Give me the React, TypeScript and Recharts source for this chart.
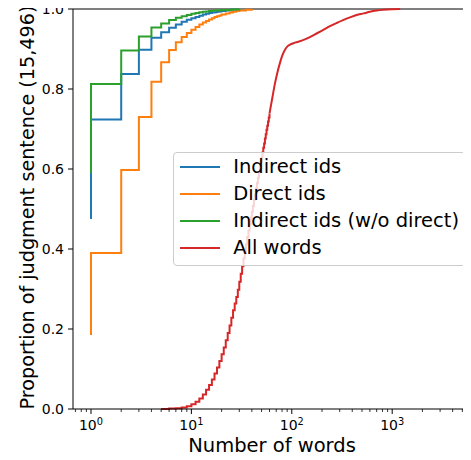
import { LineChart, Line, XAxis, YAxis, Legend, ReferenceLine, Label } from "recharts";

const FONT = "DejaVu Sans";
const BLUE = "#1f77b4";
const ORANGE = "#ff7f0e";
const GREEN = "#2ca02c";
const RED = "#d62728";

// Indirect ids
const INDIRECT_WORDS = [1, 1, 2, 3, 4, 5, 6, 7, 8, 9, 10, 11, 12, 13, 14, 15, 16, 17, 18, 19, 20, 22, 25, 30];
const INDIRECT_PROP = [
  0.475, 0.724, 0.8375, 0.898, 0.928, 0.942, 0.953, 0.961, 0.968, 0.973, 0.977, 0.98, 0.983, 0.986, 0.988, 0.99,
  0.991, 0.992, 0.993, 0.994, 0.995, 0.996, 0.998, 1,
];

// Direct ids
const DIRECT_WORDS = [1, 1, 2, 3, 4, 5, 6, 7, 8, 9, 10, 11, 12, 13, 14, 15, 16, 17, 18, 19, 20, 22, 24, 26, 28, 30, 35, 40];
const DIRECT_PROP = [
  0.185, 0.39, 0.5975, 0.73, 0.818, 0.867, 0.8975, 0.917, 0.93, 0.94, 0.948, 0.955, 0.961, 0.966, 0.97, 0.974,
  0.977, 0.98, 0.982, 0.984, 0.986, 0.989, 0.991, 0.993, 0.995, 0.996, 0.998, 1,
];

// Indirect ids (w/o direct)
const NODIRECT_WORDS = [1, 1, 2, 3, 4, 5, 6, 7, 8, 9, 10, 11, 12, 13, 14, 15, 16, 17, 18, 19, 20, 25, 30];
const NODIRECT_PROP = [
  0.59, 0.8125, 0.896, 0.931, 0.954, 0.964, 0.9725, 0.978, 0.982, 0.985, 0.988, 0.99, 0.992, 0.993, 0.994, 0.995,
  0.9955, 0.996, 0.9965, 0.997, 0.9973, 0.999, 1,
];

// All words: visible integer steps, then the smooth upper part
const ALL_WORDS = [
  5, 6, 7, 8, 9, 10, 11, 12, 13, 14, 15, 16, 17, 18, 19, 20, 21, 22, 23, 24, 25, 26, 27, 28, 29, 30, 31, 32, 33, 34,
  35, 36, 37, 38, 39, 40, 41, 42, 43, 44, 45, 46, 47, 48, 49, 50, 51, 52, 53, 54, 55, 56, 57, 58, 59, 60,
];
const ALL_PROP = [
  0.0, 0.001, 0.002, 0.004, 0.007, 0.012, 0.018, 0.026, 0.036, 0.048, 0.06, 0.074, 0.089, 0.104, 0.12, 0.137,
  0.154, 0.172, 0.19, 0.209, 0.228, 0.247, 0.264, 0.28, 0.298, 0.318, 0.338, 0.357, 0.376, 0.394, 0.412, 0.43,
  0.446, 0.462, 0.478, 0.493, 0.508, 0.523, 0.537, 0.551, 0.565, 0.578, 0.591, 0.604, 0.617, 0.629, 0.641, 0.653,
  0.664, 0.676, 0.687, 0.698, 0.708, 0.719, 0.729, 0.739,
];
const ALL_TAIL_WORDS = [60, 64, 68, 72, 76, 80, 85, 90, 96, 105, 116, 135, 160, 180, 210, 240, 280, 324, 380, 442, 520, 600, 700, 814, 1000, 1200];
const ALL_TAIL_PROP = [
  0.739, 0.778, 0.814, 0.842, 0.864, 0.882, 0.897, 0.906, 0.911, 0.915, 0.918, 0.924, 0.933, 0.94, 0.949, 0.957,
  0.965, 0.972, 0.979, 0.985, 0.989, 0.993, 0.996, 0.998, 0.9995, 1,
];

const MAJOR_TICKS = [1, 10, 100, 1000];
const MINOR_TICKS = [
  0.7, 0.8, 0.9, 2, 3, 4, 5, 6, 7, 8, 9, 20, 30, 40, 50, 60, 70, 80, 90, 200, 300, 400, 500, 600, 700, 800, 900,
  2000, 3000, 4000, 5000, 6000, 7000,
];
const Y_TICKS = [0, 0.2, 0.4, 0.6, 0.8, 1.0];

const zip = (w: number[], p: number[]) => w.map((x, i) => ({ w: x, p: p[i] }));

const SERIES = [
  { name: "Indirect ids", color: BLUE, data: zip(INDIRECT_WORDS, INDIRECT_PROP) },
  { name: "Direct ids", color: ORANGE, data: zip(DIRECT_WORDS, DIRECT_PROP) },
  { name: "Indirect ids (w/o direct)", color: GREEN, data: zip(NODIRECT_WORDS, NODIRECT_PROP) },
  { name: "All words", color: RED, data: zip(ALL_WORDS, ALL_PROP) },
];
const allTail = zip(ALL_TAIL_WORDS, ALL_TAIL_PROP);

const xTicks = [...MINOR_TICKS, ...MAJOR_TICKS].sort((a, b) => a - b);

function XTick(props: any) {
  const { x, y, payload } = props;
  const v = payload.value;
  const major = MAJOR_TICKS.includes(v);
  return (
    <g>
      <line x1={x} x2={x} y1={y} y2={y + (major ? 5 : 3)} stroke="#000" strokeWidth={major ? 1 : 0.8} />
      {major && (
        <text x={x} y={y + 21} textAnchor="middle" fontFamily={FONT} fontSize={14} fill="#000">
          10
          <tspan dy={-5.5} fontSize={9.8}>
            {Math.round(Math.log10(v))}
          </tspan>
        </text>
      )}
    </g>
  );
}

function LegendBox() {
  return (
    <div
      style={{
        position: "relative",
        width: 293,
        height: 114,
        boxSizing: "border-box",
        border: "1px solid #cccccc",
        borderRadius: 4,
        background: "rgba(255,255,255,0.8)",
        fontFamily: FONT,
        fontSize: 19.5,
        color: "#000",
      }}
    >
      {SERIES.map((s, i) => (
        <div
          key={s.name}
          style={{
            position: "absolute",
            left: 0,
            top: 0.7 + i * 27.1,
            height: 26,
            lineHeight: "26px",
            display: "flex",
            alignItems: "center",
            whiteSpace: "nowrap",
          }}
        >
          <span style={{ display: "inline-block", marginLeft: 6.5, width: 40, height: 2, background: s.color }} />
          <span style={{ marginLeft: 13 }}>{s.name}</span>
        </div>
      ))}
    </div>
  );
}

export default function App() {
  // the axes run past the right edge of the picture, as in the cropped original
  return (
    <div style={{ margin: -8, width: 471, height: 460, overflow: "hidden" }}>
      <LineChart width={480} height={460} margin={{ top: 9, right: 0, bottom: 0, left: 0 }}>
        <XAxis
          dataKey="w"
          type="number"
          scale="log"
          domain={[0.662, 7491]}
          ticks={xTicks}
          interval={0}
          tick={<XTick />}
          tickLine={false}
          tickSize={0}
          tickMargin={0}
          height={51}
          axisLine={{ stroke: "#000", strokeWidth: 1 }}
        >
          <Label
            content={() => (
              <text x={272} y={452} textAnchor="middle" fontFamily={FONT} fontSize={19.5} fill="#000">
                Number of words
              </text>
            )}
          />
        </XAxis>
        <YAxis
          type="number"
          domain={[0, 1]}
          ticks={Y_TICKS}
          interval={0}
          width={73}
          tickSize={5}
          tickMargin={4}
          tickFormatter={(v: number) => v.toFixed(1)}
          tick={{ fill: "#000", fontSize: 14, fontFamily: FONT }}
          tickLine={{ stroke: "#000", strokeWidth: 1 }}
          axisLine={{ stroke: "#000", strokeWidth: 1 }}
        >
          <Label
            content={(p: any) => {
              const vb = p.viewBox || { x: 0, y: 9, width: 73, height: 400 };
              const cx = vb.x + 33.5;
              const cy = vb.y + vb.height / 2 - 1.5;
              return (
                <text
                  x={cx}
                  y={cy}
                  transform={`rotate(-90, ${cx}, ${cy})`}
                  textAnchor="middle"
                  fontFamily={FONT}
                  fontSize={19.2}
                  fill="#000"
                >
                  Proportion of judgment sentence (15,496)
                </text>
              );
            }}
          />
        </YAxis>
        <ReferenceLine y={1} stroke="#000" strokeWidth={1} />
        {SERIES.map((s) => (
          <Line
            key={s.name}
            data={s.data}
            dataKey="p"
            name={s.name}
            type="stepAfter"
            stroke={s.color}
            strokeWidth={2}
            dot={false}
            activeDot={false}
            isAnimationActive={false}
          />
        ))}
        <Line
          data={allTail}
          dataKey="p"
          name="All words tail"
          legendType="none"
          type="monotone"
          stroke={RED}
          strokeWidth={2}
          dot={false}
          activeDot={false}
          isAnimationActive={false}
        />
        <Legend
          layout="horizontal"
          verticalAlign="middle"
          align="center"
          content={() => <LegendBox />}
          wrapperStyle={{ left: 172.7, top: 152.3, width: 293, height: 114 }}
        />
      </LineChart>
    </div>
  );
}
